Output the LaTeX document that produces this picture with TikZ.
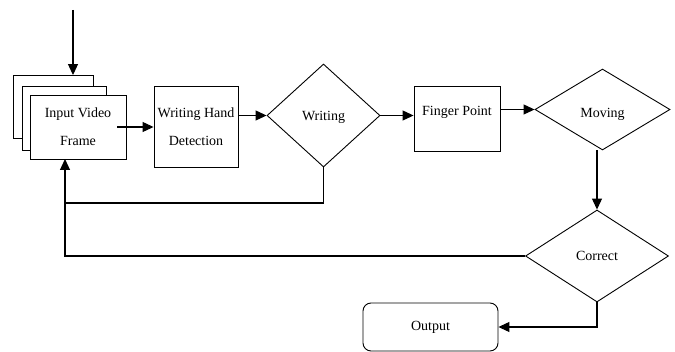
\documentclass[tikz,border=0pt]{standalone}
\usepackage{fontspec}
\setmainfont{Liberation Serif}
\usetikzlibrary{shapes.geometric,arrows.meta}
\tikzset{
  box/.style={draw, line width=0.9pt, fill=white, inner sep=0pt, align=center,
    font=\fontsize{14}{28}\selectfont},
  decision/.style={diamond, draw, line width=0.9pt, inner sep=0pt,
    font=\fontsize{14}{17}\selectfont},
  arr/.style={line width=1.1pt, -{Triangle[length=11pt,width=10pt]}},
  link/.style={line width=1.1pt}
}
\begin{document}
\begin{tikzpicture}[x=1pt, y=1pt]
      \useasboundingbox (0,0) rectangle (675,351);
      % Stacked frames
      \node[box, minimum width=80, minimum height=63] (back)  at (53,244) {};
      \node[box, minimum width=84, minimum height=64] (mid)   at (64,233) {};
      \node[box, minimum width=96, minimum height=64] (front) at (78,224) {Input Video\\Frame};

      % Process boxes and decisions
      \node[box, minimum width=84, minimum height=81] (whd) at (196,224.5) {Writing Hand\\Detection};
      \node[decision, minimum width=113, minimum height=103, text height=14pt, text depth=3pt] (wr) at (323.5,235.5) {Writing};
      \node[box, minimum width=86, minimum height=65, text depth=16pt] (fp) at (457,232.5) {Finger Point};
      \node[decision, minimum width=135, minimum height=81, text height=20pt, text depth=3pt] (mov) at (602.5,241.5) {Moving};
      \node[decision, minimum width=143, minimum height=92] (cor) at (597,95) {Correct};
      \node[box, rounded corners=8pt, minimum width=135, minimum height=48] (out) at (430.5,24) {Output};

      % Loose ends
      \coordinate (top)  at (73,341);
      \coordinate (fin)  at (65,192);
      \coordinate (loop) at (65,148);

      % Connectors
      \draw[arr] (top) -- (top |- back.north);
      \draw[arr] ([xshift=-9pt]front.east) -- (front.east -| whd.west);
      \draw[arr] (wr.west -| whd.east) -- (wr.west);
      \draw[arr] (wr.east) -- (wr.east -| fp.west);
      \draw[arr] (fp.east |- mov.west) -- (mov.west);
      \draw[arr] (mov.south -| cor.north) -- (cor.north);
      \draw[arr] (cor.south) |- (out.east);

      % Feedback loops
      \draw[link] (wr.south) |- (loop);
      \draw[arr]  (cor.west) -| (fin);

    \end{tikzpicture}
\end{document}
